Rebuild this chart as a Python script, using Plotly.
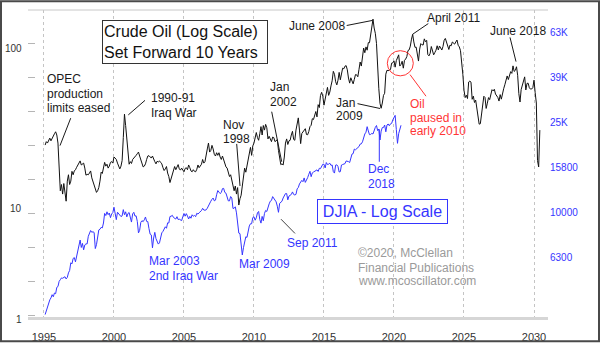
import numpy as np
import plotly.graph_objects as go

# ---------------- data ----------------
OIL_START = 1985          # first month of the crude oil series (Jan)
SHIFT_YEARS = 10          # oil is set forward 10 years
DJIA_START = 1995         # first month of the DJIA series (Jan)

# Crude oil, monthly, USD/bbl (1985-01 .. 2020-05)
oil = [
    25.3, 26.5, 26.0, 27.0, 27.8, 26.8, 27.5, 28.5, 29.5, 30.3, 29.0, 26.0,   # 1985
    18.8, 13.6, 14.8, 13.0, 15.0, 13.0, 11.8, 15.5, 16.9, 14.8, 15.5, 17.7,   # 1986
    16.9, 17.8, 18.1, 18.7, 19.3, 19.8, 20.4, 19.3, 19.6, 19.8, 18.5, 16.8,   # 1987
    17.0, 16.9, 17.3, 17.8, 16.2, 15.5, 14.8, 14.2, 13.3, 13.6, 14.2, 15.5,   # 1988
    17.5, 17.2, 18.8, 20.0, 19.0, 19.5, 18.5, 19.0, 20.0, 20.2, 19.8, 21.5,   # 1989
    21.2, 20.8, 19.8, 18.8, 18.3, 19.0, 20.5, 28.0, 38.5, 33.0, 28.5, 24.5,   # 1990
    19.5, 20.2, 19.7, 20.8, 21.1, 21.5, 22.0, 22.5, 23.0, 21.8, 20.5, 19.3,   # 1991
    18.8, 19.0, 19.6, 20.8, 21.8, 21.9, 21.5, 21.2, 21.8, 20.8, 20.2, 19.6,   # 1992
    20.3, 20.1, 20.4, 20.0, 19.6, 18.6, 17.9, 18.3, 18.9, 17.3, 16.5, 15.2,   # 1993
    16.2, 17.3, 17.7, 18.9, 18.1, 19.0, 19.4, 18.3, 18.0, 18.5, 18.1, 17.6,   # 1994
    18.4, 18.6, 18.1, 19.3, 18.6, 17.8, 17.6, 18.1, 17.7, 17.6, 18.2, 19.3,   # 1995
    18.6, 19.0, 19.5, 20.8, 19.8, 20.2, 22.5, 24.0, 26.0, 23.0, 23.5, 25.2,   # 1996
    24.0, 22.3, 21.8, 22.8, 22.0, 22.8, 21.5, 20.8, 21.8, 20.5, 19.8, 18.8,   # 1997
    18.5, 17.5, 16.5, 16.9, 15.5, 14.5, 13.6, 14.5, 13.0, 14.2, 11.2, 12.2,   # 1998
    12.8, 14.5, 16.5, 18.5, 17.5, 19.3, 21.0, 22.5, 24.5, 22.0, 25.0, 26.0,   # 1999
    27.8, 30.0, 28.0, 27.0, 29.5, 32.5, 29.0, 33.0, 31.0, 33.5, 32.0, 27.5,   # 2000
    28.5, 27.5, 26.5, 28.2, 28.0, 26.5, 26.8, 27.2, 23.5, 21.0, 19.4, 19.6,   # 2001
    19.3, 21.5, 26.0, 27.5, 25.5, 26.8, 27.0, 29.0, 30.5, 27.3, 27.0, 31.0,   # 2002
    33.5, 36.6, 31.0, 25.8, 29.6, 30.2, 30.5, 31.6, 29.2, 29.1, 30.4, 32.5,   # 2003
    33.1, 36.2, 35.8, 37.4, 39.9, 37.1, 43.8, 42.1, 49.6, 51.8, 49.1, 43.5,   # 2004
    48.2, 51.8, 55.4, 49.7, 52.0, 56.5, 60.6, 68.9, 66.2, 59.8, 57.3, 61.0,   # 2005
    67.9, 61.4, 66.6, 71.9, 71.3, 73.9, 74.4, 70.3, 62.9, 58.7, 63.1, 61.1,   # 2006
    58.1, 61.8, 65.9, 65.7, 64.0, 70.7, 78.2, 74.0, 81.7, 94.5, 88.7, 96.0,   # 2007
    91.8, 101.8, 101.6, 113.5, 127.4, 140.0, 124.1, 115.5, 100.6, 67.8, 54.4, 44.6,  # 2008
    41.7, 44.8, 49.7, 51.1, 66.3, 69.9, 69.5, 70.0, 70.6, 77.0, 77.3, 79.4,   # 2009
    72.9, 79.7, 83.8, 86.2, 74.0, 75.6, 79.0, 71.9, 80.0, 81.4, 84.1, 91.4,   # 2010
    92.2, 97.0, 106.7, 113.9, 102.7, 95.4, 95.7, 88.8, 79.2, 93.2, 100.4, 98.8,  # 2011
    98.5, 107.1, 103.0, 104.9, 86.5, 85.0, 88.1, 96.5, 92.2, 86.2, 88.9, 91.8,  # 2012
    97.5, 92.1, 97.2, 93.5, 92.0, 96.6, 105.0, 107.7, 102.3, 96.4, 92.7, 98.4,  # 2013
    97.5, 102.6, 101.6, 99.7, 102.7, 105.4, 98.2, 96.0, 91.2, 80.5, 66.2, 53.3,  # 2014
    48.2, 49.8, 47.6, 59.6, 60.3, 59.5, 47.1, 49.2, 45.1, 46.6, 41.7, 37.0,   # 2015
    33.6, 33.8, 38.3, 45.9, 49.1, 48.3, 41.6, 44.7, 48.2, 46.9, 49.4, 53.7,   # 2016
    52.8, 54.0, 50.6, 49.3, 48.3, 46.0, 50.2, 47.2, 51.7, 54.4, 57.4, 60.4,   # 2017
    64.7, 61.6, 64.9, 68.6, 67.0, 74.2, 68.8, 69.8, 73.3, 65.3, 50.9, 45.4,   # 2018
    53.8, 57.2, 60.1, 63.9, 53.5, 58.5, 58.6, 55.1, 54.1, 54.2, 55.2, 61.1,   # 2019
    51.6, 44.8, 20.5, 18.8, 31.0,                                             # 2020
]

# DJIA, monthly (1995-01 .. 2020-06), as read against the right-hand scale
djia = [
    3536, 3690, 3825, 3975, 4108, 4192, 4332, 4242, 4406, 4376, 4669, 4708,          # 1995
    4963, 5047, 5141, 5123, 5192, 5203, 5087, 5167, 5411, 5547, 6000, 5932,          # 1996
    6268, 6328, 6057, 6448, 6745, 7059, 7565, 7012, 7309, 6847, 7197, 7275,          # 1997
    7274, 7862, 8096, 8338, 8188, 8236, 8172, 6936, 7216, 7905, 8388, 8447,          # 1998
    8610, 8562, 9003, 9926, 9715, 10093, 9803, 9963, 9510, 9871, 10008, 10577,       # 1999
    10066, 9318, 10048, 9875, 9680, 9612, 9680, 10318, 9799, 10093, 9582, 9924,      # 2000
    10016, 9655, 9089, 9876, 10039, 9662, 9681, 9154, 8140, 8349, 9064, 9220,        # 2001
    9126, 9298, 9572, 9150, 9131, 8504, 8038, 7971, 6985, 7725, 8184, 7675,          # 2002
    7410, 7260, 7353, 7802, 8142, 8266, 8495, 8663, 8533, 9017, 8999, 9618,          # 2003
    9649, 9737, 9529, 9408, 9373, 9600, 9329, 9360, 9274, 9225, 9594, 9920,          # 2004
    9651, 9905, 9664, 9378, 9630, 9453, 9790, 9643, 9723, 9605, 9942, 9861,          # 2005
    9996, 10114, 10220, 10458, 10275, 10258, 10291, 10471, 10745, 11115, 11243, 11466,  # 2006
    11612, 11287, 11366, 12018, 12538, 12336, 12155, 12289, 12784, 12816, 12302, 12204,  # 2007
    11638, 11285, 11282, 11794, 11627, 10442, 10468, 10620, 9983, 8579, 8123, 8074,  # 2008
    7361, 6498, 7000, 7515, 7820, 7771, 8438, 8736, 8935, 8936, 9517, 9594,          # 2009
    9262, 9499, 9988, 10128, 9326, 8992, 9629, 9214, 9925, 10229, 10126, 10652,      # 2010
    10941, 11248, 11334, 11786, 11564, 11421, 11172, 10685, 10040, 10999, 11082, 11241,  # 2011
    11622, 11916, 12155, 12157, 11402, 11850, 11968, 12044, 12362, 12048, 11984, 12056,  # 2012
    12752, 12930, 13413, 13653, 13907, 13717, 14260, 13625, 13920, 14302, 14799, 15251,  # 2013
    14443, 15016, 15141, 15255, 15380, 15481, 15238, 15730, 15680, 16000, 16402, 16397,  # 2014
    15792, 16682, 16354, 16414, 16570, 16210, 16275, 15206, 14982, 16251, 16302, 16031,  # 2015
    15149, 15196, 16270, 16352, 16364, 16496, 16957, 16929, 16843, 16691, 17594, 18182,  # 2016
    18275, 19147, 19010, 19266, 19328, 19642, 20140, 20192, 20613, 21507, 22330, 22741,  # 2017
    24057, 23027, 22175, 22230, 22463, 22329, 23382, 23888, 24341, 23107, 23495, 21000,  # 2018
    22999, 23843, 23855, 24466, 22830, 24472, 24715, 24291, 24764, 24882, 25807, 26600,  # 2019
    27000, 23376, 20300, 22397, 23352, 24400,                                        # 2020
]

x_ticks = [1995, 2000, 2005, 2010, 2015, 2020, 2025, 2030]
# left-hand tick marks (evenly spaced on the oil log scale)
oil_tick_vals = [10 ** 0.4, 10 ** 0.6, 10 ** 0.8, 10, 10 ** 1.2, 10 ** 1.4, 10 ** 1.6, 10 ** 1.8, 100]
# left-hand labels as printed on the reference, with their pixel rows
left_labels = ["100", "10", "1"]
left_label_rows = [50, 215, 330]
djia_tick_vals = [6310, 10000, 15850, 25120, 39810, 63100]
djia_tick_text = ["6300", "10000", "15800", "25K", "39K", "63K"]

# ---------------- styling ----------------
BLUE = "#3535ff"
RED = "#ff3535"
INK = "#1a1a1a"
FONT = "Liberation Sans, Arial, sans-serif"

W, H = 600, 353
ML, MR, MT, MB = 28, 52, 10, 26
PW, PH = W - ML - MR, H - MT - MB


def px(x):
    return (x - ML) / PW


def py(y):
    return 1 - (y - MT) / PH


oil_t = OIL_START + SHIFT_YEARS + (np.arange(len(oil)) + 1) / 12.0
djia_t = DJIA_START + (np.arange(len(djia)) + 1) / 12.0

fig = go.Figure()
fig.add_trace(go.Scatter(x=oil_t, y=oil, mode="lines", yaxis="y",
                         line=dict(color="#111111", width=1), hoverinfo="skip"))
fig.add_trace(go.Scatter(x=djia_t, y=djia, mode="lines", yaxis="y2",
                         line=dict(color=BLUE, width=1), hoverinfo="skip"))

fig.update_layout(
    width=W, height=H,
    margin=dict(l=ML, r=MR, t=MT, b=MB, pad=0),
    paper_bgcolor="white", plot_bgcolor="white",
    showlegend=False,
    font=dict(family=FONT, color=INK),
    xaxis=dict(range=[1993.86, 2031.0], tickvals=x_ticks, ticktext=[str(v) for v in x_ticks],
               showgrid=True, gridcolor="#c4c4c4", griddash="dot", gridwidth=1,
               showline=True, linecolor="#d6d6d6", linewidth=3, ticks="",
               ticklabelstandoff=8,
               tickfont=dict(size=11, color="#333333", family=FONT), zeroline=False),
    yaxis=dict(type="log", range=[0.3886, 2.2], tickvals=oil_tick_vals,
               ticktext=[""] * len(oil_tick_vals),
               ticks="inside", ticklen=7, tickcolor="#b5b5b5", tickwidth=1,
               showgrid=False, showline=False, zeroline=False),
    yaxis2=dict(type="log", overlaying="y", side="right", range=[3.5378, 4.8983],
                tickvals=djia_tick_vals, ticktext=djia_tick_text, ticks="",
                showgrid=False, showline=False, zeroline=False, ticklabelstandoff=1,
                tickfont=dict(size=10, color=BLUE, family=FONT)),
)

shapes = []
# outer frame
shapes.append(dict(type="rect", xref="paper", yref="paper",
                   x0=px(1), x1=px(599), y0=py(352), y1=py(1),
                   line=dict(color="#4a4a4a", width=2), layer="above"))
# top line of the plot area
shapes.append(dict(type="line", xref="paper", yref="paper", x0=0, x1=1, y0=1, y1=1,
                   line=dict(color="#c8c8c8", width=1)))

# leader lines (pixel positions)
leaders = [
    (70.7, 121.7, 60, 150, INK),
    (145, 103.3, 128.3, 118.3, INK),
    (236.7, 148.3, 240, 191.7, INK),
    (271.7, 115, 281.7, 166.7, INK),
    (346.7, 26, 372.7, 20.7, INK),
    (357.5, 106.7, 380, 111.7, INK),
    (428.3, 24, 412.7, 35, INK),
    (510, 38.3, 516, 63.3, INK),
    (410, 76.7, 426, 99, RED),
    (379.3, 133.3, 379.3, 166.7, BLUE),
    (281, 226, 295, 240.7, "#444444"),
]
for x0, y0, x1, y1, c in leaders:
    shapes.append(dict(type="line", xref="paper", yref="paper",
                       x0=px(x0), y0=py(y0), x1=px(x1), y1=py(y1),
                       line=dict(color=c, width=1)))
# red circle
cx, cy, r = 400.3, 65, 13
shapes.append(dict(type="circle", xref="paper", yref="paper",
                   x0=px(cx - r), x1=px(cx + r), y0=py(cy + r), y1=py(cy - r),
                   line=dict(color=RED, width=1)))
fig.update_layout(shapes=shapes)

labels = [
    ("OPEC", 45.7, 81, INK), ("production", 45.7, 96.7, INK), ("limits eased", 45.7, 111.7, INK),
    ("1990-91", 150, 101, INK), ("Iraq War", 150, 116, INK),
    ("Nov", 221.7, 128.5, INK), ("1998", 221.7, 143, INK),
    ("Jan", 269.3, 90, INK), ("2002", 269.3, 104.5, INK),
    ("June 2008", 288.3, 26.5, INK),
    ("Jan", 335, 105.6, INK), ("2009", 335, 119.2, INK),
    ("April 2011", 426, 18, INK),
    ("June 2018", 489.3, 31.7, INK),
    ("Oil", 409.3, 107.3, RED), ("paused in", 409.3, 121.7, RED), ("early 2010", 409.3, 135, RED),
    ("Dec", 366.7, 174.5, BLUE), ("2018", 366.7, 189.5, BLUE),
    ("Mar 2003", 148.3, 269.3, BLUE), ("2nd Iraq War", 148.3, 284.3, BLUE),
    ("Mar 2009", 238.3, 272.7, BLUE),
    ("Sep 2011", 286, 251, BLUE),
    ("©2020, McClellan", 356.7, 260.4, "#9a9a9a"),
    ("Financial Publications", 356.7, 276, "#9a9a9a"),
    ("www.mcoscillator.com", 356.7, 290, "#9a9a9a"),
]
annotations = []
for text, x, y, c in labels:
    annotations.append(dict(text=text, xref="paper", yref="paper", x=px(x), y=py(y),
                            xanchor="left", yanchor="middle", showarrow=False, borderpad=0,
                            font=dict(size=12, color=c, family=FONT)))

# left-hand axis labels
for text, row in zip(left_labels, left_label_rows):
    annotations.append(dict(text=text, xref="paper", yref="paper", x=px(23), y=py(row),
                            xanchor="right", yanchor="middle", showarrow=False, borderpad=0,
                            font=dict(size=10, color="#333333", family=FONT)))

# boxed titles
annotations.append(dict(text="Crude Oil (Log Scale)<br>Set Forward 10 Years",
                        xref="paper", yref="paper", x=px(184.7), y=py(42.85),
                        xanchor="center", yanchor="middle", showarrow=False, align="left",
                        width=162, height=40,
                        bgcolor="white", bordercolor="#333333", borderwidth=1, borderpad=1,
                        font=dict(size=16, color="#111111", family=FONT)))
annotations.append(dict(text="DJIA - Log Scale",
                        xref="paper", yref="paper", x=px(382.5), y=py(218.2),
                        xanchor="center", yanchor="middle", showarrow=False,
                        width=127, height=21,
                        bgcolor="white", bordercolor=BLUE, borderwidth=1, borderpad=1,
                        font=dict(size=16, color=BLUE, family=FONT)))
fig.update_layout(annotations=annotations)

fig.write_html("out.html")
